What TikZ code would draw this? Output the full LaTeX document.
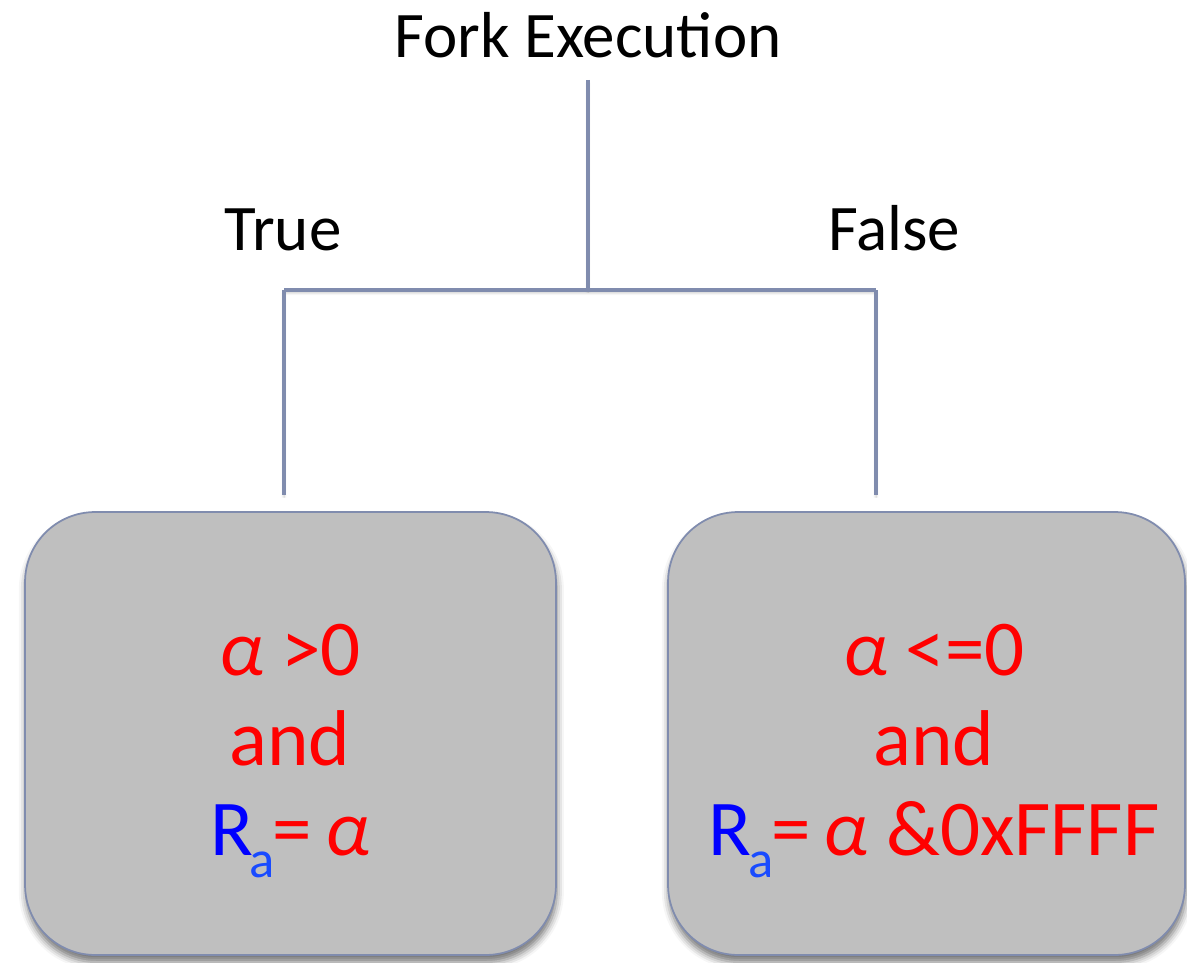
\documentclass[tikz,border=0pt]{standalone}
\usepackage{fontspec}
\setmainfont{Carlito}
\usetikzlibrary{shadows.blur}

\definecolor{linkgray}{RGB}{128,140,174}
\definecolor{boxgray}{RGB}{191,191,191}
\definecolor{subblue}{RGB}{25,75,255}

\newcommand{\regname}{{\color{blue}R\kern-0.04em\raisebox{-0.28em}{\color{subblue}\fontsize{30}{30}\selectfont a}}\kern-0.03em}
\newcommand{\alp}{\textit{α}}

\begin{document}
\begin{tikzpicture}[x=0.02cm, y=-0.02cm,
    every node/.style={inner sep=0pt},
    label text/.style={font=\fontsize{37}{40}\selectfont, anchor=base},
    branch/.style={draw=linkgray, line width=2.1pt,
        blur shadow={shadow xshift=0pt, shadow yshift=-1.5pt, shadow blur radius=1.5pt, shadow opacity=25}},
    condbox/.style={draw=linkgray, line width=1pt, fill=boxgray, rounded corners=1.4cm,
        minimum height=8.86cm,
        blur shadow={shadow xshift=0.5pt, shadow yshift=-4pt, shadow blur radius=4pt, shadow opacity=55}},
    condtext/.style={align=center, text=red, font=\fontsize{45}{51}\selectfont}]
    \useasboundingbox (0,0) rectangle (1187,963);

    % Nodes
    \node[label text] (fork) at (588,58) {Fork Execution};
    \node[label text] (true) at (283,250) {True};
    \node[label text] (false) at (894,250) {False};

    \coordinate (top) at (588,80);
    \coordinate (split) at (588,290);
    \coordinate (tl) at (284,290);
    \coordinate (fl) at (876,290);
    \coordinate (tend) at (284,495);
    \coordinate (fend) at (876,495);

    \node[condbox, minimum width=10.62cm] (yes) at (290.5,733.5) {};
    \node[condbox, minimum width=10.34cm] (no) at (926.5,733.5) {};
    \node[condtext] (yestext) at (290,751) {\alp\ >0\\and\\\regname=\,\alp};
    \node[condtext] (notext) at (934,751) {\alp\ <=0\\and\\\regname=\,\alp\ \&0xFFFF};

    % Edges
    \draw[branch] (top) -- (split);
    \draw[branch] (tl) -- (fl);
    \draw[branch] (tl) -- (tend);
    \draw[branch] (fl) -- (fend);
\end{tikzpicture}
\end{document}
